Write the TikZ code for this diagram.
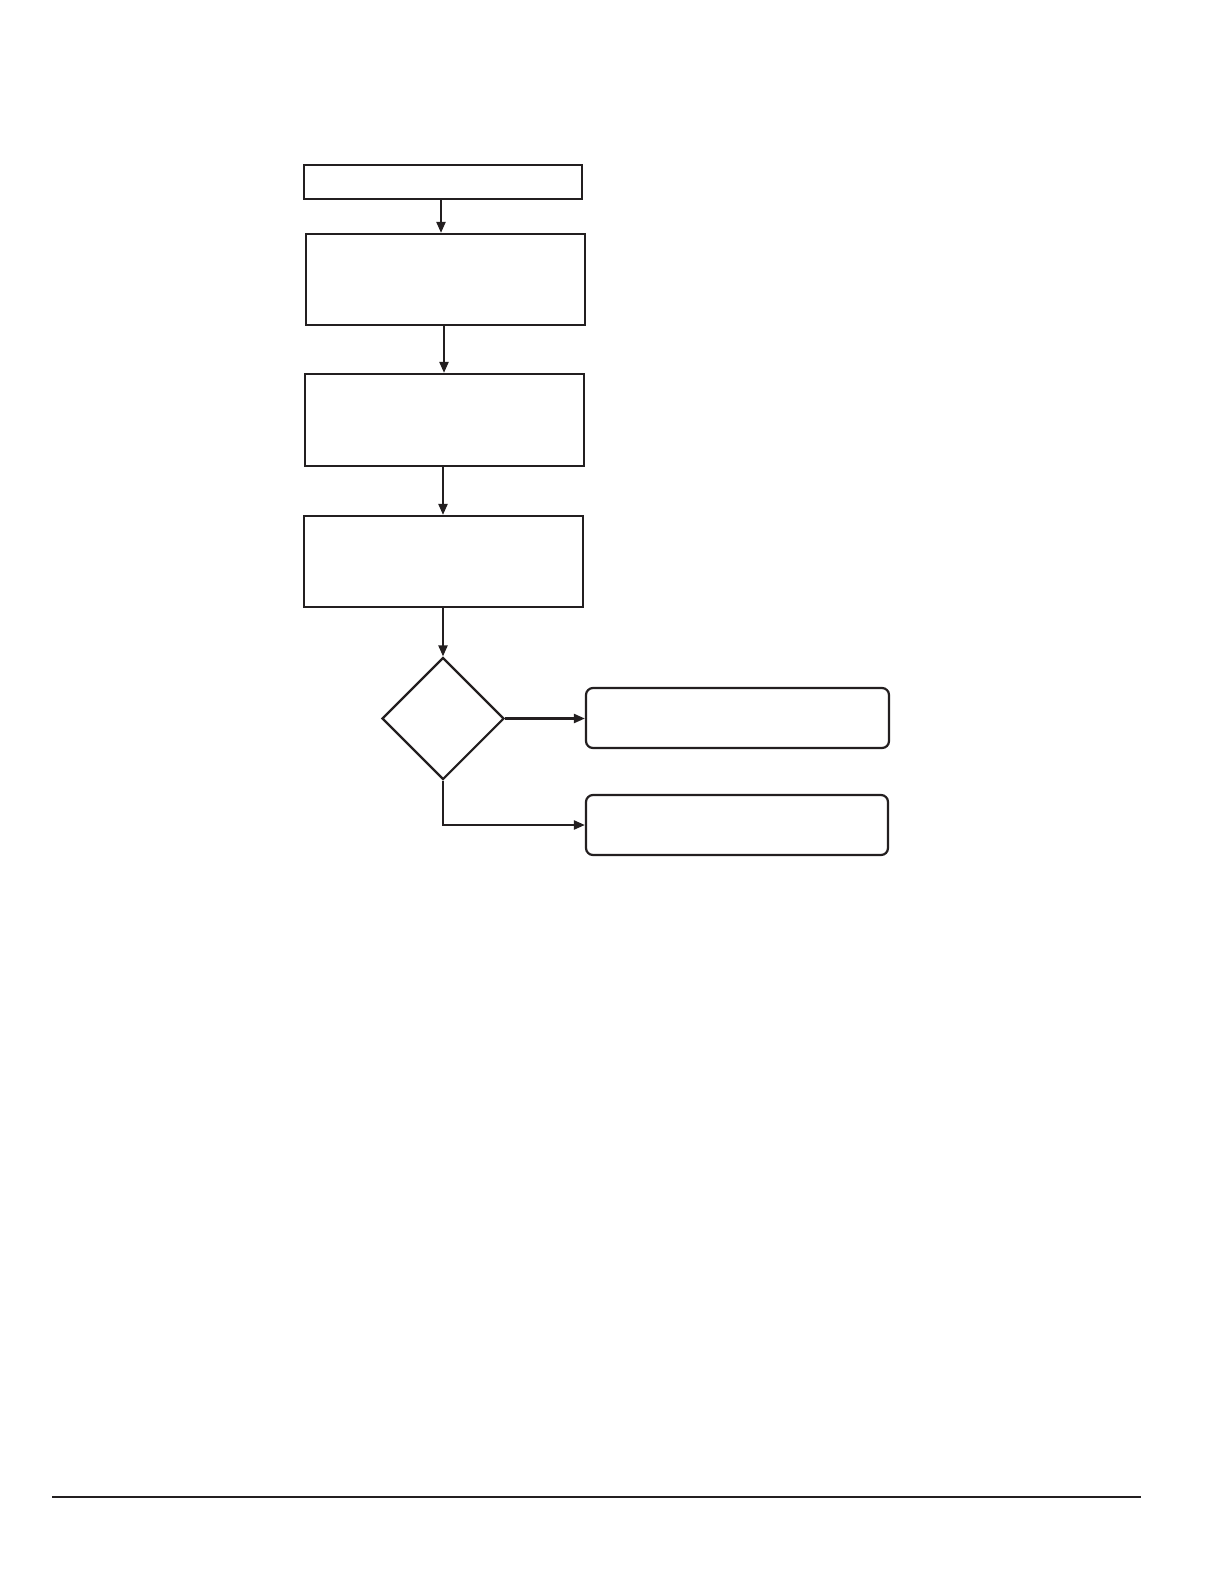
\documentclass[tikz,border=0pt]{standalone}
\usetikzlibrary{shapes.geometric,arrows.meta}
\definecolor{ink}{HTML}{231F20}
\begin{document}
\begin{tikzpicture}[x=0.5pt,y=-0.5pt,
  every node/.style={draw=ink,line width=1.1pt,inner sep=0pt},
  sqbox/.style={rectangle},
  rbox/.style={rectangle,rounded corners=3.5pt},
  dec/.style={diamond,aspect=1},
  conn/.style={draw=ink,line width=1.1pt,-{Triangle[length=5.5pt,width=4.5pt]}}]
\useasboundingbox (0,0) rectangle (1224,1584);
\node[sqbox,minimum width=139pt,minimum height=17pt] (b1) at (443,182) {};
\node[sqbox,minimum width=139.5pt,minimum height=45.5pt] (b2) at (445.5,279.5) {};
\node[sqbox,minimum width=139.5pt,minimum height=46pt] (b3) at (444.5,420) {};
\node[sqbox,minimum width=139.5pt,minimum height=45.5pt] (b4) at (443.5,561.5) {};
\node[dec,minimum width=61pt,minimum height=61pt] (d) at (443,718.5) {};
\node[rbox,minimum width=151.5pt,minimum height=30pt] (r1) at (737.5,718) {};
\node[rbox,minimum width=151pt,minimum height=30pt] (r2) at (737,825) {};
\coordinate (k1) at (441,199);
\coordinate (k2) at (444,325);
\coordinate (k3) at (443,466);
\coordinate (k4) at (443,607);
\draw[conn] (k1) -- (k1 |- b2.north);
\draw[conn] (k2) -- (k2 |- b3.north);
\draw[conn] (k3) -- (k3 |- b4.north);
\draw[conn] (k4) -- (d.north);
\draw[conn] (d.east) -- (d.east -| r1.west);
\draw[conn] (d.south) |- (r2.west);
\coordinate (l1) at (52,1497);
\coordinate (l2) at (1141,1497);
\draw[draw=ink,line width=1pt] (l1) -- (l2);
\end{tikzpicture}
\end{document}
